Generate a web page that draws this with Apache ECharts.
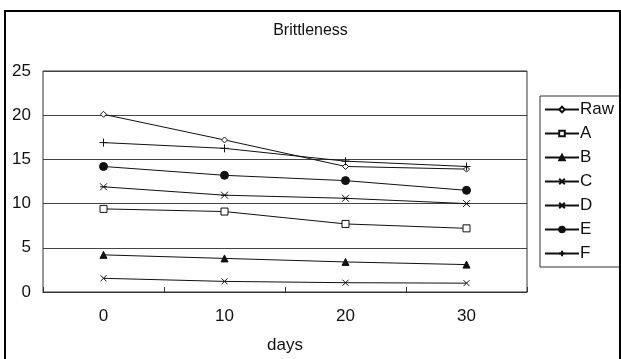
<!DOCTYPE html>
<html>
<head>
<meta charset="utf-8">
<script src="https://cdn.jsdelivr.net/npm/echarts@6/dist/echarts.min.js"></script>
<style>
  html, body { margin: 0; padding: 0; background: #fff; }
  #chart { width: 621px; height: 359px; }
</style>
</head>
<body>
<div id="chart"></div>
<script>
// Brittleness over storage time, per sample
const days = ['0', '10', '20', '30'];
const raw = [20.1, 17.2, 14.2, 13.9];
const sampleA = [9.4, 9.1, 7.7, 7.2];
const sampleB = [4.2, 3.8, 3.4, 3.1];
const sampleC = [1.55, 1.2, 1.05, 1.0];
const sampleD = [11.9, 10.95, 10.6, 10.0];
const sampleE = [14.2, 13.2, 12.6, 11.5];
const sampleF = [16.9, 16.25, 14.8, 14.2];
const yTicks = [0, 5, 10, 15, 20, 25];

const FONT = '"Liberation Sans", Arial, sans-serif';
const INK = '#111';

const SYM = {
  diamond: 'path://M5,0L10,5L5,10L0,5Z',
  cross: 'path://M0,0L10,10M10,0L0,10',
  star: 'path://M0,0L10,10M10,0L0,10M0,5L10,5',
  plus: 'path://M5,0L5,10M0,5L10,5'
};

function makeSeries(name, data, symbol, size, filled) {
  return {
    name: name,
    type: 'line',
    data: data,
    symbol: symbol,
    symbolSize: size,
    showAllSymbol: true,
    lineStyle: { color: INK, width: 1 },
    itemStyle: {
      color: filled ? INK : '#fff',
      borderColor: INK,
      borderWidth: 1
    },
    emphasis: { disabled: true },
    animation: false
  };
}

const series = [
  makeSeries('Raw', raw, SYM.diamond, 6, false),
  makeSeries('A', sampleA, 'rect', 7, false),
  makeSeries('B', sampleB, 'triangle', 7, true),
  makeSeries('C', sampleC, SYM.cross, 6, true),
  makeSeries('D', sampleD, SYM.star, 7, true),
  makeSeries('E', sampleE, 'circle', 8, true),
  makeSeries('F', sampleF, SYM.plus, 8, true)
];

const chart = echarts.init(document.getElementById('chart'), null, { renderer: 'canvas' });
chart.setOption({
  backgroundColor: '#fff',
  animation: false,
  title: {
    text: 'Brittleness',
    left: 'center',
    top: 18,
    textStyle: { fontFamily: FONT, fontSize: 16, fontWeight: 'normal', color: INK }
  },
  grid: {
    left: 43, right: 94, top: 71, bottom: 67,
    show: true, borderColor: '#333', borderWidth: 1, backgroundColor: '#fff'
  },
  legend: {
    orient: 'vertical',
    left: 540,
    top: 96,
    padding: [5, 10, 5, 4],
    itemGap: 7,
    itemWidth: 34,
    itemHeight: 7,
    borderColor: '#333',
    borderWidth: 1,
    textStyle: { fontFamily: FONT, fontSize: 17, color: INK, padding: [0, 0, 0, -4] },
    data: ['Raw', 'A', 'B', 'C', 'D', 'E', 'F']
  },
  xAxis: {
    type: 'category',
    data: days,
    boundaryGap: true,
    name: 'days',
    nameLocation: 'middle',
    nameGap: 45,
    nameTextStyle: { fontFamily: FONT, fontSize: 17, color: INK },
    axisLine: { show: true, lineStyle: { color: '#333' } },
    axisTick: { show: true, inside: true, length: 5, lineStyle: { color: '#333' } },
    axisLabel: { fontFamily: FONT, fontSize: 17, color: INK, margin: 16 },
    splitLine: { show: false }
  },
  yAxis: {
    type: 'value',
    min: yTicks[0],
    max: yTicks[yTicks.length - 1],
    interval: 5,
    axisLine: { show: false },
    axisTick: { show: false },
    axisLabel: { fontFamily: FONT, fontSize: 17, color: INK, margin: 12 },
    splitLine: { show: true, lineStyle: { color: '#444', width: 1 } }
  },
  graphic: [{
    type: 'rect',
    shape: { x: 5, y: 11, width: 615, height: 400 },
    style: { fill: 'none', stroke: '#000', lineWidth: 2 },
    silent: true,
    z: 100
  }],
  series: series
});
</script>
</body>
</html>
